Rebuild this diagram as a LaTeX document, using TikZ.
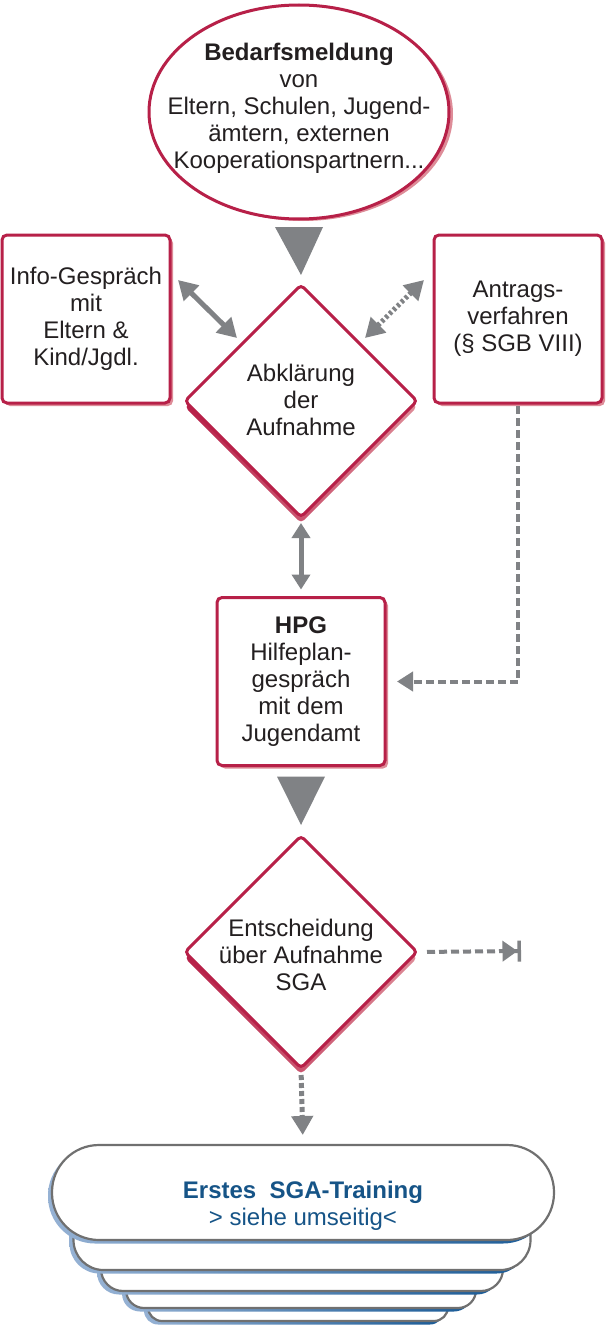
\documentclass[tikz,border=0pt]{standalone}
\usepackage{fontspec}
\setmainfont{Liberation Sans}
\usetikzlibrary{shapes.geometric,arrows.meta,calc,shadows}
\definecolor{crim}{RGB}{183,32,72}
\definecolor{crimsh}{RGB}{222,140,152}
\definecolor{agray}{RGB}{128,130,133}
\definecolor{txtc}{RGB}{35,31,32}
\definecolor{sgablue}{RGB}{22,84,135}
\definecolor{stackgray}{RGB}{112,112,112}
\definecolor{shblue}{RGB}{25,90,150}
\definecolor{shbluelight}{RGB}{150,178,212}
\begin{document}
\begin{tikzpicture}[x=1pt,y=-1pt,
  every node/.style={font=\fontsize{24}{27}\selectfont, text=txtc},
  lbl/.style={align=center, inner sep=0pt},
  crimbox/.style={draw=crim, line width=3pt, fill=white, rounded corners=5pt,
    minimum width=168pt, minimum height=168pt, inner sep=0pt, outer sep=0pt, align=center,
    general shadow={shadow xshift=3pt, shadow yshift=-3pt, fill=crimsh}},
  decision/.style={diamond, draw=crim, line width=3pt, fill=white, rounded corners=4pt,
    minimum width=232pt, minimum height=232pt, inner sep=0pt, outer sep=0pt,
    general shadow={shadow xshift=0pt, shadow yshift=-6pt, left color=crim, right color=crimsh}},
  bedarf/.style={ellipse, draw=crim, line width=3pt, fill=white,
    minimum width=300pt, minimum height=214pt, inner sep=0pt, outer sep=0pt,
    general shadow={shadow xshift=4pt, shadow yshift=-2pt, fill=crimsh}},
  stk/.style={draw=stackgray, line width=2.2pt, fill=white, inner sep=0pt, outer sep=0pt,
    general shadow={shadow xshift=-4pt, shadow yshift=-3.5pt, left color=shbluelight, right color=shblue}},
  solidarr/.style={draw=agray, line width=5pt},
  dasharr/.style={draw=agray, line width=4pt, dash pattern=on 8pt off 4pt},
  dotarr/.style={draw=agray, line width=5pt, dash pattern=on 3pt off 2.5pt},
]
\fill[white] (0,0) rectangle (606,1327);
\useasboundingbox (0,0) rectangle (606,1327);

% top ellipse
\node[bedarf] (bed) at (299,112) {};
\node[lbl] (bedtxt) at (299,108) {\textbf{Bedarfsmeldung}\\von\\Eltern, Schulen, Jugend-\\ämtern, externen\\Kooperationspartnern...};

% side boxes
\node[crimbox] (info) at (86,319) {Info-Gespräch\\mit\\Eltern \&\\Kind/Jgdl.};
\node[crimbox] (antrag) at (518,319) {Antrags-\\verfahren\\(§ SGB VIII)};

% decision 1
\node[decision] (dia1) at (301,401) {};
\node[lbl] (dia1txt) at (301,400) {Abklärung\\der\\Aufnahme};

% HPG box
\node[crimbox] (hpg) at (301,681.5) {\textbf{HPG}\\Hilfeplan-\\gespräch\\mit dem\\Jugendamt};

% decision 2
\node[decision] (dia2) at (301,952) {};
\node[lbl] (dia2txt) at (301,955) {Entscheidung\\über Aufnahme\\SGA};

% stack of training layers (back to front)
\node[stk, rounded corners=14pt, minimum width=300pt, minimum height=151pt] (lay5) at (298,1245.5) {};
\node[stk, rounded corners=18pt, minimum width=350pt, minimum height=138pt] (lay4) at (301,1239) {};
\node[stk, rounded corners=22pt, minimum width=402pt, minimum height=121pt] (lay3) at (302,1230.5) {};
\node[stk, rounded corners=30pt, minimum width=457pt, minimum height=100pt] (lay2) at (302,1220) {};
\node[stk, rounded corners=47pt, minimum width=502pt, minimum height=95pt] (train) at (303,1192.5) {};
\node[lbl, text=sgablue] (traintxt) at (303,1206) {\textbf{Erstes\ \ SGA-Training}\\> siehe umseitig<};

% big triangles
\fill[agray] ($(bed.south)+(-24,8)$) -- ($(bed.south)+(24,8)$) -- ($(dia1.north)+(0,-10)$) -- cycle;
\fill[agray] ($(hpg.south)+(-24,11)$) -- ($(hpg.south)+(24,11)$) -- ($(dia2.north)+(0,-11)$) -- cycle;

% double arrows
\draw[solidarr, {Triangle[length=19pt,width=21pt]}-{Triangle[length=19pt,width=21pt]}]
  ($(dia1.north west)+(-65,-63)$) -- ($(dia1.north west)+(-6,-5)$);
\draw[dotarr, {Triangle[length=19pt,width=21pt]}-{Triangle[length=19pt,width=21pt]}]
  ($(dia1.north east)+(65,-63)$) -- ($(dia1.north east)+(6,-5)$);
\draw[solidarr, {Triangle[length=15pt,width=18pt]}-{Triangle[length=15pt,width=18pt]}, shorten <=6pt, shorten >=8pt]
  (dia1.south) -- (hpg.north);

% elbow dashed from Antrag to HPG
\draw[dasharr, -{Triangle[length=16pt,width=19pt]}, shorten <=3pt, shorten >=12pt]
  (antrag.south) -- (antrag.south |- hpg.east) -- (hpg.east);

% exit arrow
\coordinate (stopx) at (521,951);
\draw[dasharr, -{Triangle[length=15pt,width=20pt] Bar[width=21pt,line width=3.5pt]}, shorten <=10pt]
  (dia2.east) -- (stopx);

% down to training
\draw[draw=agray, line width=5pt, dash pattern=on 5pt off 3pt, -{Triangle[length=19pt,width=21pt]}, shorten <=7pt, shorten >=10pt]
  (dia2.south) -- (train.north);
\end{tikzpicture}
\end{document}
